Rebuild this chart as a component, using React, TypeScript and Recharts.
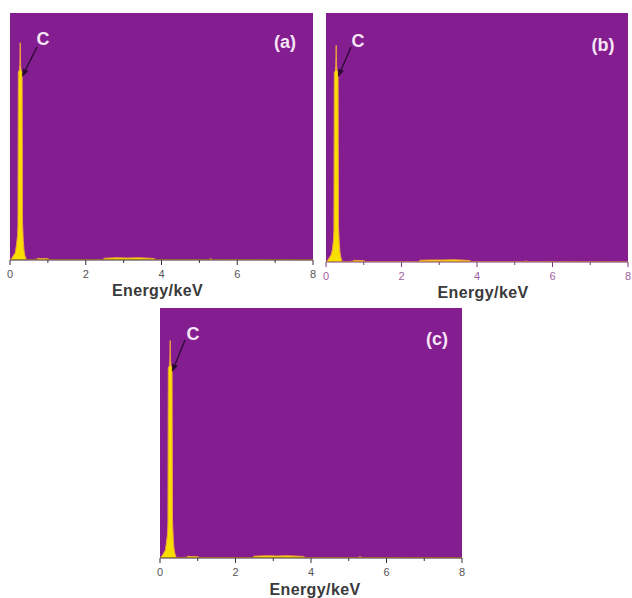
import { AreaChart, Area, XAxis, YAxis, CartesianGrid } from 'recharts'

// energy axis (keV) shared by the three spectra
const energy = [
  0, 0.06, 0.1, 0.14, 0.17, 0.2, 0.21, 0.22, 0.25, 0.26, 0.27, 0.28, 0.29, 0.32, 0.33, 0.35, 0.37, 0.39,
  0.43, 0.6, 0.7, 0.75, 0.8, 0.95, 1.0, 1.05, 2.45, 2.5, 2.8, 3.1, 3.4, 3.7, 3.8, 3.85, 5.25, 5.3, 5.35, 8,
]

// counts in % of full scale
const countsA = [
  0, 1, 2, 3, 6, 10, 14, 76, 77, 79, 88, 79, 77, 76, 16, 8, 4, 2,
  0.2, 0.2, 0.3, 0.7, 0.6, 0.6, 0.5, 0.2, 0.2, 0.7, 0.9, 0.8, 0.9, 0.7, 0.6, 0.2, 0.2, 0.5, 0.2, 0.1,
]
const countsB = [
  0, 1, 2, 3, 5, 9, 13, 76, 77, 79, 87, 79, 77, 76, 15, 8, 4, 2,
  0.2, 0.2, 0.3, 0.7, 0.6, 0.6, 0.5, 0.2, 0.2, 0.7, 0.8, 0.8, 0.9, 0.7, 0.6, 0.2, 0.2, 0.4, 0.2, 0.1,
]
const countsC = [
  0, 1, 2, 3, 6, 10, 14, 76, 77, 79, 87, 79, 77, 76, 16, 8, 4, 2,
  0.2, 0.2, 0.3, 0.7, 0.6, 0.6, 0.5, 0.2, 0.2, 0.7, 0.9, 0.8, 0.9, 0.7, 0.6, 0.2, 0.2, 0.5, 0.2, 0.1,
]

const xTicks = [0, 1, 2, 3, 4, 5, 6, 7, 8]

const PURPLE = '#841e90'
const FONT = '"Liberation Sans", Arial, sans-serif'

const rows = (counts: number[]) => energy.map((e, i) => ({ e, c: counts[i] }))

function makeTick(lineColor: string, textColor: string) {
  return (props: any) => {
    const { x, y, payload } = props
    const major = payload.value % 2 === 0
    return (
      <g>
        <line x1={x} y1={y} x2={x} y2={y + (major ? 5 : 3)} stroke={lineColor} strokeWidth={1} />
        {major && (
          <text x={x} y={y + 18} textAnchor="middle" fill={textColor} fontSize={11} fontFamily={FONT}>
            {payload.value}
          </text>
        )}
      </g>
    )
  }
}

type PanelProps = {
  counts: number[]
  left: number
  top: number
  width: number
  height: number
  margin: { top: number; right: number; left: number; bottom: number }
  axisColor: string
  tickColor: string
  labelOffset: number
  labelDx: number
}

function Panel({ counts, left, top, width, height, margin, axisColor, tickColor, labelOffset, labelDx }: PanelProps) {
  return (
    <div style={{ position: 'absolute', left, top }}>
      <AreaChart width={width} height={height} data={rows(counts)} margin={margin}>
        <CartesianGrid fill={PURPLE} stroke="none" horizontal={false} vertical={false} />
        <XAxis
          dataKey="e"
          type="number"
          domain={[0, 8]}
          ticks={xTicks}
          interval={0}
          height={height - margin.top - 247 - (height - 300)}
          tickSize={0}
          tickMargin={0}
          tickLine={false}
          axisLine={{ stroke: axisColor, strokeWidth: 1 }}
          tick={makeTick(axisColor, tickColor)}
          label={{
            value: 'Energy/keV',
            position: 'insideBottom',
            offset: labelOffset,
            dx: labelDx,
            style: { fontFamily: FONT, fontSize: 16, fontWeight: 'bold', fill: '#3a3a3a', letterSpacing: 0.4 },
          }}
        />
        <YAxis hide domain={[0, 100]} />
        <Area
          type="linear"
          dataKey="c"
          stroke="#f2a03c"
          strokeWidth={1}
          fill="#f8df00"
          fillOpacity={1}
          isAnimationActive={false}
          dot={false}
          activeDot={false}
        />
      </AreaChart>
    </div>
  )
}

function arrow(x1: number, y1: number, x2: number, y2: number) {
  const len = Math.hypot(x2 - x1, y2 - y1)
  const ux = (x2 - x1) / len
  const uy = (y2 - y1) / len
  const bx = x2 - ux * 8
  const by = y2 - uy * 8
  const px = -uy * 3
  const py = ux * 3
  return (
    <g>
      <line x1={x1} y1={y1} x2={bx} y2={by} stroke="#2a0a33" strokeWidth={1.3} />
      <polygon points={`${x2},${y2} ${bx + px},${by + py} ${bx - px},${by - py}`} fill="#2a0a33" />
    </g>
  )
}

const textStyle = { fontFamily: FONT, fontWeight: 'bold' as const, fill: '#f6e6f6' }

export default function App() {
  return (
    <div style={{ position: 'absolute', left: 0, top: 0, width: 632, height: 598, background: '#fff', overflow: 'hidden' }}>
      <Panel
        counts={countsA}
        left={0}
        top={0}
        width={320}
        height={300}
        margin={{ top: 13, right: 7, left: 10, bottom: 0 }}
        axisColor="#3a2a3a"
        tickColor="#555"
        labelOffset={4}
        labelDx={-4}
      />
      <Panel
        counts={countsB}
        left={316}
        top={0}
        width={316}
        height={302}
        margin={{ top: 13, right: 4, left: 10, bottom: 0 }}
        axisColor="#7a3a7a"
        tickColor="#a060a0"
        labelOffset={4}
        labelDx={6}
      />
      <Panel
        counts={countsC}
        left={150}
        top={295}
        width={320}
        height={303}
        margin={{ top: 13, right: 8, left: 10, bottom: 0 }}
        axisColor="#3a2a3a"
        tickColor="#555"
        labelOffset={3}
        labelDx={4}
      />
      <svg width={632} height={598} style={{ position: 'absolute', left: 0, top: 0, pointerEvents: 'none' }}>
        {arrow(37, 47, 22, 77)}
        {arrow(351, 47, 338, 77)}
        {arrow(185, 340, 172, 372)}
        <text x={43} y={45} textAnchor="middle" fontSize={18} {...textStyle}>C</text>
        <text x={358} y={47} textAnchor="middle" fontSize={18} {...textStyle}>C</text>
        <text x={193} y={340} textAnchor="middle" fontSize={18} {...textStyle}>C</text>
        <text x={285} y={48} textAnchor="middle" fontSize={18} {...textStyle}>(a)</text>
        <text x={603} y={51} textAnchor="middle" fontSize={18} {...textStyle}>(b)</text>
        <text x={437} y={345} textAnchor="middle" fontSize={18} {...textStyle}>(c)</text>
      </svg>
    </div>
  )
}
